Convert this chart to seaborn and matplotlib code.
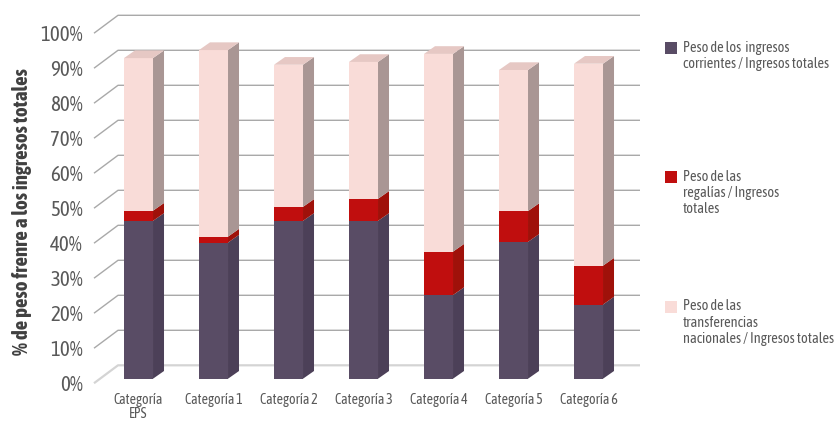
import matplotlib
matplotlib.use("Agg")
import matplotlib.pyplot as plt
import seaborn as sns
import numpy as np
from matplotlib.patches import Polygon, Rectangle
from matplotlib.transforms import ScaledTranslation

# ---------------- data ----------------
categorias = ["Categoría\nEPS", "Categoría 1", "Categoría 2", "Categoría 3",
              "Categoría 4", "Categoría 5", "Categoría 6"]
corrientes = [45.1, 38.9, 45.1, 45.1, 23.9, 39.1, 21.2]
regalias = [2.9, 1.7, 4.0, 6.3, 12.4, 8.8, 11.1]
transferencias = [43.6, 53.3, 40.6, 39.1, 56.5, 40.3, 57.7]
yticks = [0, 10, 20, 30, 40, 50, 60, 70, 80, 90, 100]
legend_labels = ["Peso de los  ingresos\ncorrientes / Ingresos totales",
                 "Peso de las\nregalías / Ingresos\ntotales",
                 "Peso de las\ntransferencias\nnacionales / Ingresos totales"]
ylabel = "% de peso frenre a los ingresos totales"

# colours: front, side, top
c_dark = ("#594c65", "#4c4058", "#4c4058")
c_red = ("#c00e0e", "#9f110a", "#9f110a")
c_pink = ("#f9dcd8", "#a99694", "#e6c8c4")

sns.set_style("white")
plt.rcParams["font.family"] = ["Asap Condensed", "DejaVu Sans"]
TXT = "#595959"

W, H = 836, 423
fig = plt.figure(figsize=(W / 100, H / 100), dpi=100)
ax = fig.add_axes([101 / W, (H - 378.7) / H, 525 / W, 350 / H])

corr = np.array(corrientes)
reg = np.array(regalias)
tra = np.array(transferencias)
cum1 = corr
cum2 = corr + reg
cum3 = corr + reg + tra

bw = 0.387
for vals, col in [(cum3, c_pink[0]), (cum2, c_red[0]), (cum1, c_dark[0])]:
    sns.barplot(x=categorias, y=vals, color=col, width=bw, saturation=1,
                linewidth=0, ax=ax, zorder=3)

ax.set_xlim(-0.5, 6.5)
ax.set_ylim(0, 100)
for s in ax.spines.values():
    s.set_visible(False)
ax.set_yticks(yticks)
ax.set_yticklabels([f"{v}%" for v in yticks], fontsize=15, color=TXT)
ax.tick_params(axis="y", length=0, pad=13)
ax.tick_params(axis="x", length=0, pad=10, labelsize=10, labelcolor=TXT)
ax.grid(False)
for lab in ax.get_yticklabels():
    lab.set_transform(lab.get_transform() + ScaledTranslation(0, -0.04, fig.dpi_scale_trans))
for lab in ax.get_xticklabels():
    lab.set_verticalalignment("top")
    lab.set_linespacing(1.0)

td = ax.transData
inv = td.inverted()

def to_data(pts):
    return inv.transform(np.array(pts))

# back-wall gridlines and left-wall diagonals
for v in yticks:
    yb = td.transform((0, v))[1]
    col = "#d4d4d4" if v == 0 else "#a9a9a9"
    lw = 1.6 if v == 0 else 1.0
    pts = to_data([(94, yb - 4.5), (118, yb + 13.4), (640, yb + 13.4)])
    ax.plot(pts[:, 0], pts[:, 1], color=col, lw=lw, zorder=0, clip_on=False,
            solid_capstyle="butt")

# 3-D side and top faces, derived from bar geometry
dx, dy = 11.0, 7.7
first = ax.patches[:len(categorias)]
for i, p in enumerate(first):
    xl = p.get_x()
    xr = xl + p.get_width()
    segs = [(0, cum1[i], c_dark), (cum1[i], cum2[i], c_red), (cum2[i], cum3[i], c_pink)]
    for y0, y1, cols in segs:
        (dxr, dy0) = td.transform((xr, y0))
        (_, dy1) = td.transform((xr, y1))
        poly = to_data([(dxr, dy0), (dxr, dy1), (dxr + dx, dy1 + dy), (dxr + dx, dy0 + dy)])
        ax.add_patch(Polygon(poly, closed=True, facecolor=cols[1], edgecolor="none",
                             zorder=4, clip_on=False))
    (dxl, dtop) = td.transform((xl, cum3[i]))
    (dxr, _) = td.transform((xr, cum3[i]))
    poly = to_data([(dxl, dtop), (dxr, dtop), (dxr + dx, dtop + dy), (dxl + dx, dtop + dy)])
    ax.add_patch(Polygon(poly, closed=True, facecolor=c_pink[2], edgecolor="none",
                         zorder=4, clip_on=False))

# y label
fig.text(22 / W, 1 - 212 / H, ylabel, rotation=90, ha="center", va="center",
         fontsize=15, fontweight="bold", color="#404040")

# legend (manual, handles aligned to first line)
leg = [(c_dark[0], 42.5, legend_labels[0]),
       (c_red[0], 171.5, legend_labels[1]),
       (c_pink[0], 301.0, legend_labels[2])]
for col, ytop, lab in leg:
    fig.patches.append(Rectangle((665 / W, 1 - (ytop + 12) / H), 12 / W, 12 / H,
                                 transform=fig.transFigure, facecolor=col,
                                 edgecolor="none"))
    fig.text(683 / W, 1 - (ytop - 1.5) / H, lab, ha="left", va="top", fontsize=10.4,
             color=TXT, linespacing=1.2)

fig.savefig("out.png", dpi=100)
